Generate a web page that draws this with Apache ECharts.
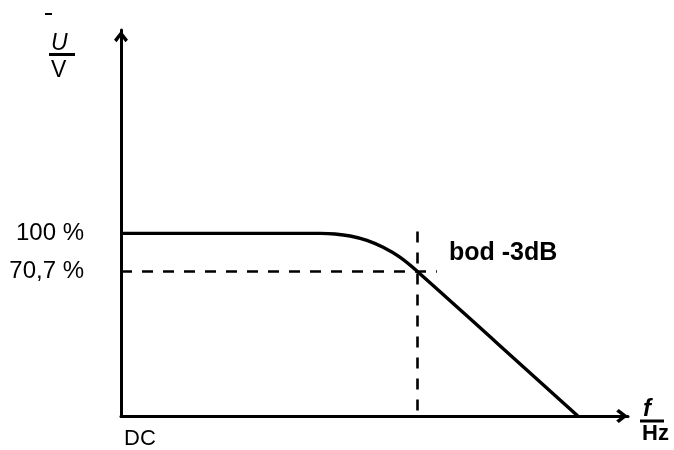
<!DOCTYPE html>
<html><head><meta charset="utf-8">
<script src="https://cdn.jsdelivr.net/npm/echarts@6/dist/echarts.min.js"></script>
<style>html,body{margin:0;padding:0;background:#fff}#c{width:674px;height:450px}</style>
</head><body><div id="c"></div>
<script>
// Frequency response (low-pass) (arbitrary units)
const curveX = [0, 39.3, 42.2, 45.2, 48.5, 51.7, 55.0, 58.4, 74.3, 90.1];
const curveY = [100, 100, 99.7, 98.6, 96.2, 92.4, 87.0, 79.3, 39.6, 0];
const levelValues = [100, 79.3];
const levelLabels = ['100 %', '70,7 %'];
const xTickValues = [0];
const xTickLabels = ['DC'];
const cutoffX = 58.4;
const cutoffY = 79.3;
const dashEndX = 62.3;
const dashTopY = 101;
const cutoffLabel = 'bod -3dB';

const FONT = "'Liberation Sans', Arial, Helvetica, sans-serif";
const chevron = 'path://M6.5,0 L13,8.4 L10.6,10.8 L6.5,5.2 L2.4,10.8 L0,8.4 Z';

const chart = echarts.init(document.getElementById('c'), null, {renderer: 'canvas'});
chart.setOption({
  animation: false,
  backgroundColor: '#fff',
  grid: {left: 121, right: 46, top: 30, bottom: 31, containLabel: false},
  xAxis: {
    type: 'value', min: 0, max: 100,
    axisLine: {show: true, lineStyle: {color: '#000', width: 3},
      symbol: ['none', chevron], symbolSize: [14, 12], symbolOffset: [0, -6]},
    axisTick: {show: false},
    splitLine: {show: false},
    axisLabel: {
      customValues: xTickValues,
      formatter: v => xTickLabels[xTickValues.indexOf(v)] ?? '',
      color: '#000', fontFamily: FONT, fontSize: 22, align: 'left',
      padding: [0, 0, 0, 3], margin: 12
    }
  },
  yAxis: {
    type: 'value', min: 0, max: 211.4,
    axisLine: {show: true, lineStyle: {color: '#000', width: 3},
      symbol: ['none', chevron], symbolSize: [14, 13], symbolOffset: [0, -6.5]},
    axisTick: {show: false},
    splitLine: {show: false},
    axisLabel: {
      customValues: levelValues,
      formatter: v => levelLabels[levelValues.indexOf(v)] ?? '',
      color: '#000', fontFamily: FONT, fontSize: 24,
      padding: [0, 0, 11, 0], margin: 37
    }
  },
  graphic: [
    {type: 'text', left: 51, top: 32, style: {text: 'U', font: 'italic 23px ' + FONT, fill: '#000'}},
    {type: 'rect', shape: {x: 49, y: 53, width: 26, height: 3}, style: {fill: '#000'}},
    {type: 'text', left: 51, top: 59, style: {text: 'V', font: '23px ' + FONT, fill: '#000'}},
    {type: 'text', left: 643, top: 397, style: {text: 'f', font: 'italic bold 24px ' + FONT, fill: '#000'}},
    {type: 'rect', shape: {x: 640, y: 419.5, width: 24, height: 3}, style: {fill: '#000'}},
    {type: 'text', left: 642, top: 423, style: {text: 'Hz', font: 'bold 22px ' + FONT, fill: '#000'}},
    {type: 'rect', shape: {x: 45, y: 13, width: 7, height: 2}, style: {fill: '#000'}}
  ],
  series: [{
    type: 'line',
    data: curveX.map((x, i) => [x, curveY[i]]),
    smooth: 0.4,
    symbol: 'none',
    lineStyle: {color: '#000', width: 3.4},
    z: 3,
    markLine: {
      silent: true, symbol: 'none',
      label: {show: false},
      lineStyle: {color: '#000', width: 2.6, type: [11, 10]},
      data: [
        [{coord: [0, cutoffY]}, {coord: [dashEndX, cutoffY]}],
        [{coord: [cutoffX, dashTopY]}, {coord: [cutoffX, 0]}]
      ]
    },
    markPoint: {
      silent: true, symbol: 'circle', symbolSize: 0,
      data: [{coord: [cutoffX, cutoffY], value: cutoffLabel}],
      label: {show: true, position: 'inside', offset: [86, -18],
        formatter: cutoffLabel, color: '#000', fontFamily: FONT, fontWeight: 'bold', fontSize: 25}
    }
  }]
});
</script></body></html>
